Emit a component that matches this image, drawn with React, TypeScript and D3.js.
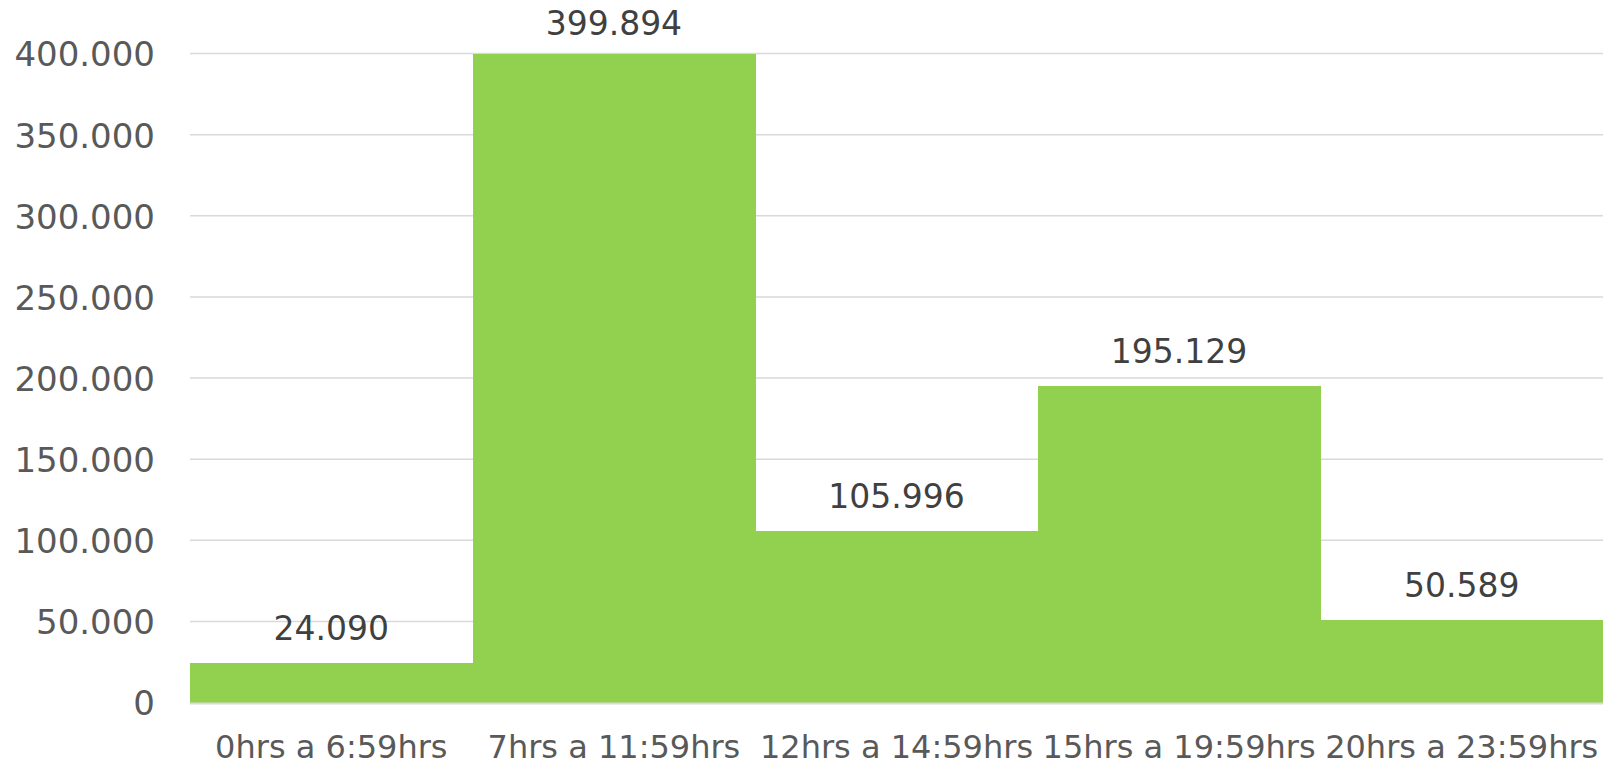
import React from "react";
import * as d3 from "d3";

const categories: string[] = [
  "0hrs a 6:59hrs",
  "7hrs a 11:59hrs",
  "12hrs a 14:59hrs",
  "15hrs a 19:59hrs",
  "20hrs a 23:59hrs",
];
const values: number[] = [24090, 399894, 105996, 195129, 50589];
const yTicks: number[] = [0, 50000, 100000, 150000, 200000, 250000, 300000, 350000, 400000];

const W = 1607;
const H = 766;
const left = 190;
const right = 1603;
const top = 53.5;
const bottom = 702.5;

const locale = d3.formatLocale({
  decimal: ",",
  thousands: ".",
  grouping: [3],
  currency: ["", ""],
});
const fmtAxis = locale.format(",.0f");
const fmtLabel = locale.format(",.0f");

export default function App() {
  const x = d3.scaleBand<string>().domain(categories).range([left, right]).padding(0);
  const y = d3.scaleLinear().domain([0, 400000]).range([bottom, top]);
  const font = "'DejaVu Sans', sans-serif";

  return (
    <svg
      width={W}
      height={H}
      style={{ position: "absolute", left: 0, top: 0, background: "#fff" }}
    >
      {yTicks.map((t) => (
        <g key={t}>
          <line
            x1={left}
            x2={right}
            y1={y(t)}
            y2={y(t)}
            stroke="#d9d9d9"
            strokeWidth={1.5}
          />
          <text
            x={155}
            y={y(t)}
            dy="0.38em"
            textAnchor="end"
            fontFamily={font}
            fontSize={34}
            fill="#595959"
          >
            {fmtAxis(t)}
          </text>
        </g>
      ))}
      <g shapeRendering="crispEdges">
        {categories.map((c, i) => (
          <rect
            key={c}
            x={x(c)!}
            y={y(values[i])}
            width={x.bandwidth() + (i < categories.length - 1 ? 1 : 0)}
            height={bottom - y(values[i])}
            fill="#92d050"
          />
        ))}
      </g>
      <line x1={left} x2={right} y1={bottom + 1} y2={bottom + 1} stroke="#d9d9d9" strokeWidth={2} />
      {categories.map((c, i) => (
        <text
          key={"l" + c}
          x={x(c)! + x.bandwidth() / 2}
          y={Math.max(y(values[i]) - 23, 35)}
          textAnchor="middle"
          fontFamily={font}
          fontSize={33}
          fill="#404040"
        >
          {fmtLabel(values[i])}
        </text>
      ))}
      {categories.map((c) => (
        <text
          key={"c" + c}
          x={x(c)! + x.bandwidth() / 2}
          y={758}
          textAnchor="middle"
          fontFamily={font}
          fontSize={32}
          fill="#595959"
        >
          {c}
        </text>
      ))}
    </svg>
  );
}
